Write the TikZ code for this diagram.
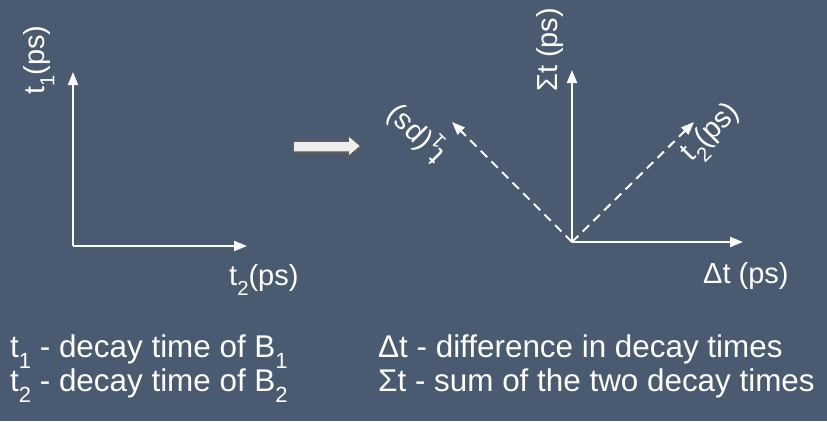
\documentclass[tikz,border=0pt]{standalone}
\usepackage{fontspec}
\usepackage{graphicx}
\setmainfont{Liberation Sans}
\usetikzlibrary{arrows.meta}
\definecolor{bg}{RGB}{74,90,112}
\definecolor{bigfill}{RGB}{238,238,238}
\definecolor{bigedge}{RGB}{95,95,95}
\newcommand\sbs[1]{\raisebox{-0.36em}{\scalebox{0.7}{#1}}}
\tikzset{
  axis/.style={draw=white, line width=2pt, -{Triangle[length=13pt,width=10pt]}},
  daxis/.style={axis, dash pattern=on 9pt off 6pt},
  lbl/.style={text=white, inner sep=0pt, font=\fontsize{29}{34}\selectfont},
  txt/.style={text=white, inner sep=0pt, anchor=base west, font=\fontsize{31.4}{36}\selectfont},
}
\begin{document}
\begin{tikzpicture}[x=1pt,y=-1pt]
\fill[bg] (0,0) rectangle (827,421);
\useasboundingbox (0,0) rectangle (827,421);
% left axes
\coordinate (o1) at (73,246);
\coordinate (y1) at (73,72);
\coordinate (x1) at (247,246);
\draw[axis] (o1) -- (y1);
\draw[axis] (o1) -- (x1);
\node[lbl, anchor=base west, rotate=90] (lt1) at (44,95) {t\sbs{1}(ps)};
\node[lbl, anchor=base west] (lt2) at (229,285) {t\sbs{2}(ps)};
% big arrow
\filldraw[fill=bigfill, draw=bigedge, line width=1.5pt]
  (293,141) -- (348,141) -- (348,135) -- (361,146) -- (348,157) -- (348,152) -- (293,152) -- cycle;
% right axes
\coordinate (o2) at (572,242);
\coordinate (y2) at (572,70);
\coordinate (x2) at (743,242);
\coordinate (d1) at (452,122);
\coordinate (d2) at (694,122);
\draw[axis] (o2) -- (y2);
\draw[axis] (o2) -- (x2);
\draw[daxis] (o2) -- (d1);
\draw[daxis] (o2) -- (d2);
\node[lbl, anchor=base west, rotate=90] (lsig) at (557,92) {Σt (ps)};
\node[lbl, anchor=base west] (ldel) at (703,283) {Δt (ps)};
\node[lbl, anchor=center, rotate=135] (lr1) at (417.5,133) {t\sbs{1}(ps)};
\node[lbl, anchor=center, rotate=45] (lr2) at (712.5,134) {t\sbs{2}(ps)};
% bottom legend
\node[txt] (a1) at (10,357) {t\sbs{1} - decay time of B\sbs{1}};
\node[txt] (a2) at (10,391) {t\sbs{2} - decay time of B\sbs{2}};
\node[txt] (b1) at (378,357) {Δt - difference in decay times};
\node[txt] (b2) at (378,391) {Σt - sum of the two decay times};
\end{tikzpicture}
\end{document}
